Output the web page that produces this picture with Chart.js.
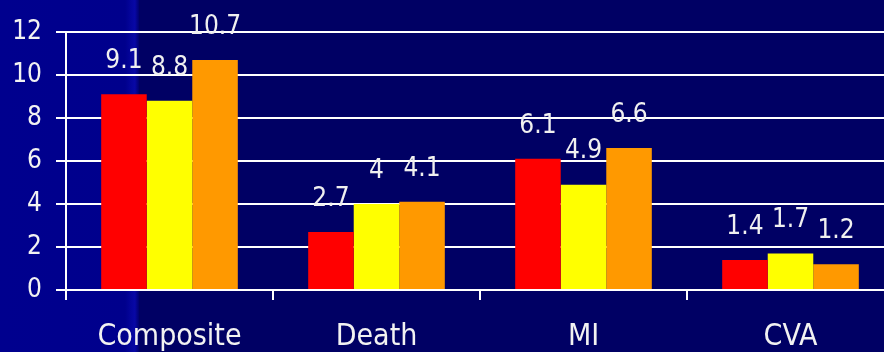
<!DOCTYPE html>
<html>
<head>
<meta charset="utf-8">
<script src="https://cdn.jsdelivr.net/npm/chart.js@4/dist/chart.umd.min.js"></script>
<style>
  html, body { margin: 0; padding: 0; overflow: hidden; background: #000066; }
  #wrap { position: absolute; left: 0; top: 0; width: 894px; height: 352px; }
</style>
</head>
<body>
<div id="wrap"><canvas id="c" width="894" height="352"></canvas></div>
<script>
const categories = ['Composite', 'Death', 'MI', 'CVA'];
const seriesRed = [9.1, 2.7, 6.1, 1.4];
const seriesYellow = [8.8, 4, 4.9, 1.7];
const seriesOrange = [10.7, 4.1, 6.6, 1.2];
const yTicks = [0, 2, 4, 6, 8, 10, 12];

const FONT = "'DejaVu Sans Condensed', 'DejaVu Sans', sans-serif";

// Slide-style backdrop: bright blue band at the left, dark navy elsewhere
const backdrop = {
  id: 'backdrop',
  beforeDraw(chart) {
    const ctx = chart.ctx;
    const w = chart.width, h = chart.height;
    ctx.save();
    ctx.fillStyle = '#000064';
    ctx.fillRect(0, 0, w, h);
    const g = ctx.createLinearGradient(0, 0, 139, 0);
    g.addColorStop(0, '#00008E');
    g.addColorStop(0.9, '#00008C');
    g.addColorStop(0.97, '#0808A6');
    g.addColorStop(1, '#000070');
    ctx.fillStyle = g;
    ctx.fillRect(0, 0, 139, h);
    ctx.restore();
  }
};

// Value captions above each bar
const valueLabels = {
  id: 'valueLabels',
  afterDatasetsDraw(chart) {
    const ctx = chart.ctx;
    ctx.save();
    ctx.font = '26px ' + FONT;
    ctx.fillStyle = '#F0F0F0';
    ctx.textAlign = 'center';
    ctx.textBaseline = 'middle';
    chart.data.datasets.forEach((ds, i) => {
      chart.getDatasetMeta(i).data.forEach((bar, j) => {
        ctx.fillText(String(ds.data[j]), bar.x, bar.y - 33);
      });
    });
    ctx.restore();
  }
};

new Chart(document.getElementById('c'), {
  type: 'bar',
  data: {
    labels: categories,
    datasets: [
      { data: seriesRed, backgroundColor: '#FF0000' },
      { data: seriesYellow, backgroundColor: '#FFFF00' },
      { data: seriesOrange, backgroundColor: '#FF9900' }
    ]
  },
  options: {
    responsive: false,
    animation: false,
    layout: { padding: { top: 32, right: 0, left: 0, bottom: 0 } },
    plugins: { legend: { display: false }, tooltip: { enabled: false } },
    datasets: { bar: { categoryPercentage: 0.66, barPercentage: 1, borderWidth: 0 } },
    scales: {
      x: {
        afterFit: s => { s.height = 62; },
        grid: { display: true, offset: true, drawOnChartArea: false, color: '#FFFFFF', lineWidth: 2, tickLength: 10 },
        border: { display: true, color: '#FFFFFF', width: 2 },
        ticks: { color: '#F2F2F2', font: { family: FONT, size: 30 }, padding: 19 }
      },
      y: {
        min: 0,
        max: 12,
        afterFit: s => { s.width = 66; },
        afterBuildTicks: s => { s.ticks = yTicks.map(v => ({ value: v })); },
        grid: { color: '#FFFFFF', lineWidth: 2, tickLength: 10 },
        border: { display: true, color: '#FFFFFF', width: 2 },
        ticks: { color: '#F2F2F2', font: { family: FONT, size: 26 }, padding: 14 }
      }
    }
  },
  plugins: [backdrop, valueLabels]
});
</script>
</body>
</html>
